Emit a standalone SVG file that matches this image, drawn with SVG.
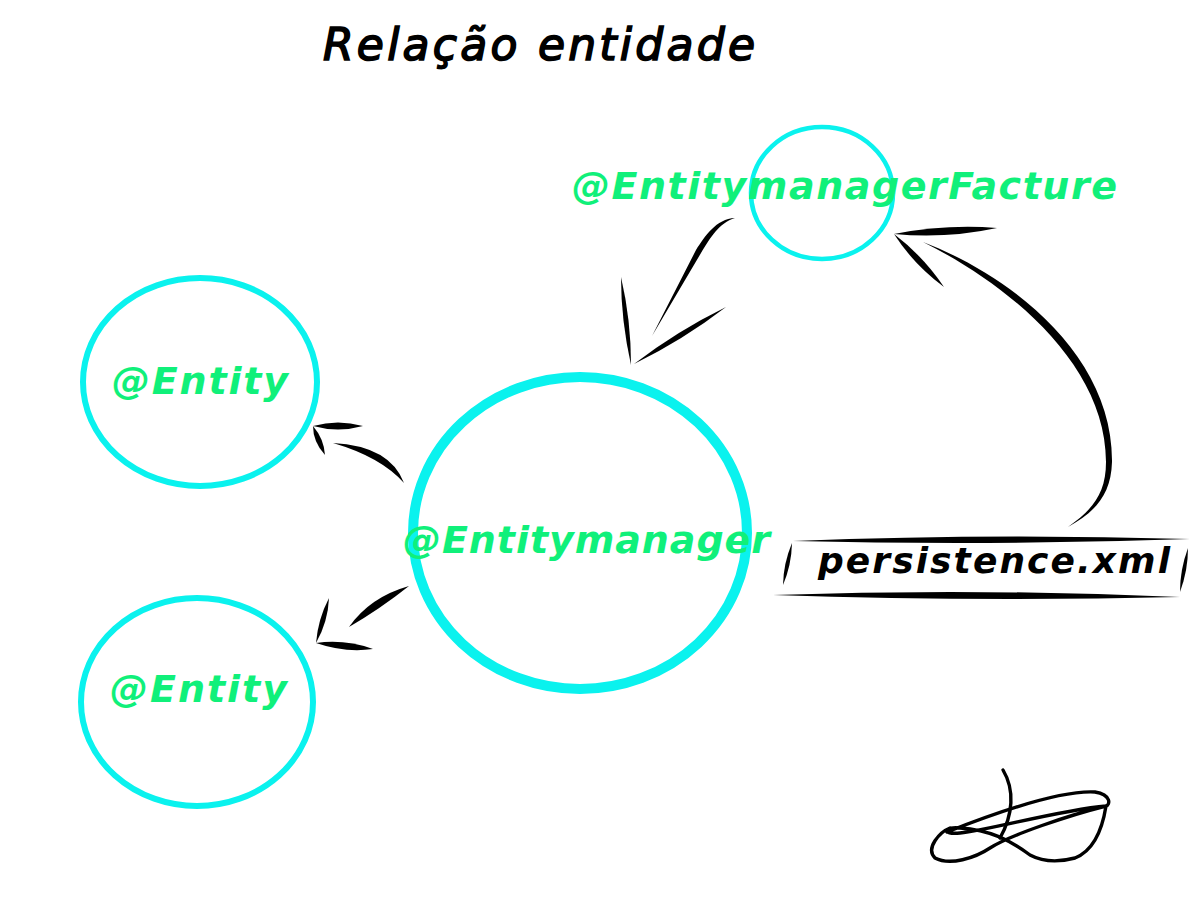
<svg xmlns="http://www.w3.org/2000/svg" width="1200" height="900" viewBox="0 0 1200 900">
<style>
.node{fill:none;stroke:#0af2ee}
.lbl{font-family:"DejaVu Sans",sans-serif;font-weight:bold;font-style:italic;fill:#10f07a}
.ink{fill:#000;stroke:none}
.title{font-family:"DejaVu Sans",sans-serif;font-style:italic;fill:#000;stroke:#000;stroke-width:1.6}
.dark{font-family:"DejaVu Sans",sans-serif;font-weight:bold;font-style:italic;fill:#000}
</style>
<rect width="1200" height="900" fill="#fff"/>
<text class="title" x="323" y="60" font-size="44" textLength="432" lengthAdjust="spacing">Relação entidade</text>

<g id="connectors">
  <!-- factory -> entitymanager -->
  <path class="ink" d="M735,218 C716,219 705,236 696,250 L652,336 L701,253 C710,238 719,223 735,218 Z"/>
  <path class="ink" d="M621,277 Q631,320 631,365 Q621,320 621,277 Z"/>
  <path class="ink" d="M726,307 Q683,340 634,364 Q677,331 726,307 Z"/>
  <!-- persistence -> factory -->
  <path class="ink" d="M923,242 C1014,277 1113,357 1112,462 C1111,495 1095,512 1068,527 C1092,510 1106,494 1106,462 C1106,363 1006,283 923,242 Z"/>
  <path class="ink" d="M894,234 Q946,224 997,228 Q946,239 894,234 Z"/>
  <path class="ink" d="M894,234 Q923,256 944,287 Q914,265 894,234 Z"/>
  <!-- entitymanager -> entity top -->
  <path class="ink" d="M333,443 Q390,446 404,483 Q381,457 333,443 Z"/>
  <path class="ink" d="M313,426 Q338,419 363,426 Q338,433 313,426 Z"/>
  <path class="ink" d="M313,426 Q324,439 325,455 Q313,442 313,426 Z"/>
  <!-- entitymanager -> entity bottom -->
  <path class="ink" d="M409,586 Q370,597 349,627 Q380,609 409,586 Z"/>
  <path class="ink" d="M329,598 Q328,622 316,643 Q318,619 329,598 Z"/>
  <path class="ink" d="M316,643 Q345,639 373,649 Q345,653 316,643 Z"/>
  <!-- persistence box strokes -->
  <path class="ink" d="M793,541 Q990,533 1190,539 Q990,546 793,541 Z"/>
  <path class="ink" d="M773,595 Q975,588 1180,597 Q975,602 773,595 Z"/>
  <path class="ink" d="M792,543 Q791.5,565 783,585 Q783.5,563 792,543 Z"/>
  <path class="ink" d="M1188,548 Q1188,570.5 1180,592 Q1180,569.5 1188,548 Z"/>
</g>

<g id="factory">
  <ellipse class="node" cx="822" cy="193" rx="71" ry="66" stroke-width="4.5"/>
  <text class="lbl" x="572" y="199" font-size="38" textLength="545" lengthAdjust="spacing">@EntitymanagerFacture</text>
</g>
<g id="entity-top">
  <ellipse class="node" cx="200" cy="382" rx="117" ry="104" stroke-width="6"/>
  <text class="lbl" x="112" y="394" font-size="38" textLength="176" lengthAdjust="spacing">@Entity</text>
</g>
<g id="entity-bottom">
  <ellipse class="node" cx="197" cy="702" rx="116" ry="104" stroke-width="6"/>
  <text class="lbl" x="110" y="702" font-size="38" textLength="177" lengthAdjust="spacing">@Entity</text>
</g>
<g id="entitymanager">
  <ellipse class="node" cx="580" cy="533" rx="167" ry="156" stroke-width="10"/>
  <text class="lbl" x="403" y="553" font-size="38" textLength="367" lengthAdjust="spacing">@Entitymanager</text>
</g>
<g id="persistence">
  <text class="dark" x="818" y="573" font-size="36" textLength="352" lengthAdjust="spacing">persistence.xml</text>
</g>

<g id="signature" fill="none" stroke="#000" stroke-width="3.4" stroke-linecap="round" stroke-linejoin="round">
  <path d="M1003,770 C1015,790 1013,815 1000,838"/>
  <path d="M947,832 C990,815 1060,790 1095,792 C1112,795 1110,805 1106,806 C1060,810 990,830 960,833 C940,835 945,826 960,828 C990,830 1010,840 1030,855 C1045,863 1060,862 1075,858 C1095,850 1103,825 1106,806 C1070,815 1010,835 990,848 C975,858 950,866 935,858 C925,848 940,832 950,828"/>
</g>
</svg>
